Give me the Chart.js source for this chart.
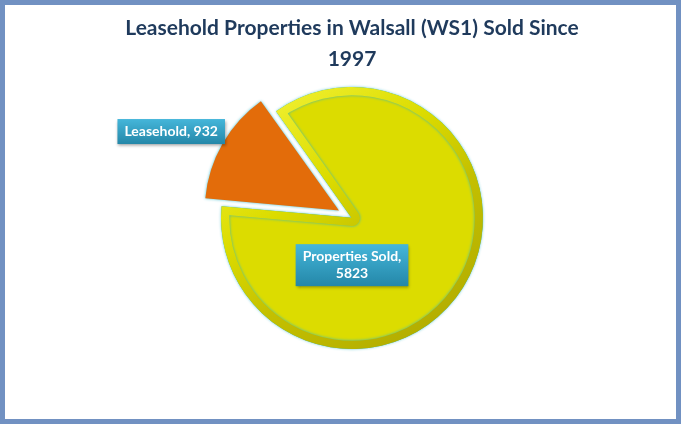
<!DOCTYPE html>
<html>
<head>
<meta charset="utf-8">
<script src="https://cdn.jsdelivr.net/npm/chart.js@4"></script>
<style>
  html, body { margin: 0; padding: 0; background: #fff; }
  #wrap { width: 681px; height: 424px; box-sizing: border-box; border: 5px solid #7191c2; }
  #wrap canvas { display: block; }
</style>
</head>
<body>
<div id="wrap"><canvas id="pie" width="671" height="414"></canvas></div>
<script>
// Donnees du graphique
const categories = ['Leasehold', 'Properties Sold'];
const values = [932, 5823];
const sliceColors = ['#e36c0a', '#dcdc00'];
const titleLines = ['Leasehold Properties in Walsall (WS1) Sold Since', '1997'];

// Bordure en degrade (biseau clair en haut, sombre en bas)
function rimColor(context) {
    const i = context.dataIndex;
    const area = context.chart.chartArea;
    if (!area) return sliceColors[i];
    const c = context.chart.ctx;
    const cx = (area.left + area.right) / 2, cy = (area.top + area.bottom) / 2;
    const g = c.createLinearGradient(cx - 90, cy - 130, cx + 90, cy + 130);
    if (i === 0) {
        g.addColorStop(0, '#f07a18');
        g.addColorStop(1, '#c85a05');
    } else {
        g.addColorStop(0, '#f2f236');
        g.addColorStop(0.35, '#dcdc00');
        g.addColorStop(0.6, '#c4c000');
        g.addColorStop(1, '#b0aa00');
    }
    return g;
}

// Plugin : lueur cyan autour des parts (effet Excel)
const glowPlugin = {
    id: 'glow',
    beforeDatasetDraw(chart) {
        const ctx = chart.ctx;
        ctx.save();
        ctx.shadowColor = 'rgba(40, 180, 200, 0.9)';
        ctx.shadowBlur = 3;
    },
    afterDatasetDraw(chart) {
        chart.ctx.restore();
    }
};

// Plugin : etiquettes de donnees dans des boites bleues
const boxLabels = {
    id: 'boxLabels',
    afterDatasetsDraw(chart, args, opts) {
        const ctx = chart.ctx;
        const meta = chart.getDatasetMeta(0);
        const arc0 = meta.data[1];
        const cx = arc0.x, cy = arc0.y, r = arc0.outerRadius;
        ctx.save();
        ctx.font = 'bold 14px Lato, "Open Sans", sans-serif';
        ctx.textAlign = 'center';
        ctx.textBaseline = 'middle';
        categories.forEach((cat, i) => {
            let lines = [cat + ', ' + values[i]];
            if (ctx.measureText(lines[0]).width > opts.maxWidth) {
                lines = [cat + ',', String(values[i])];
            }
            const w = Math.max(...lines.map(l => ctx.measureText(l).width)) + 14;
            const h = lines.length * 17 + 8;
            const x = cx + opts.pos[i][0] * r;
            const y = cy + opts.pos[i][1] * r;
            const grad = ctx.createLinearGradient(0, y - h / 2, 0, y + h / 2);
            grad.addColorStop(0, '#45b6da');
            grad.addColorStop(1, '#2487a8');
            ctx.save();
            ctx.shadowColor = 'rgba(0,0,0,0.35)';
            ctx.shadowBlur = 3;
            ctx.shadowOffsetX = 1;
            ctx.shadowOffsetY = 2;
            ctx.fillStyle = grad;
            ctx.fillRect(x - w / 2, y - h / 2, w, h);
            ctx.restore();
            ctx.fillStyle = '#ffffff';
            lines.forEach((l, k) => {
                ctx.fillText(l, x, y - h / 2 + 4 + 8.5 + k * 17);
            });
        });
        ctx.restore();
    }
};

new Chart(document.getElementById('pie'), {
    type: 'pie',
    data: {
        labels: categories,
        datasets: [{
            data: values,
            backgroundColor: sliceColors,
            borderColor: rimColor,
            borderWidth: [0, 8],
            borderAlign: 'inner',
            offset: [60, 0],
            radius: 131
        }]
    },
    options: {
        responsive: false,
        animation: false,
        rotation: -85,
        layout: { padding: { left: 23, right: 0, top: 0, bottom: 63 } },
        plugins: {
            legend: { display: false },
            tooltip: { enabled: false },
            title: {
                display: true,
                text: titleLines,
                color: '#1f3a5c',
                font: { family: 'Lato, "Open Sans", sans-serif', size: 21, weight: 'bold', lineHeight: 1.5 },
                padding: { top: 7, bottom: 5 }
            },
            boxLabels: {
                maxWidth: 115,
                pos: [[-1.38, -0.66], [0.0, 0.36]]
            }
        }
    },
    plugins: [glowPlugin, boxLabels]
});
</script>
</body>
</html>
